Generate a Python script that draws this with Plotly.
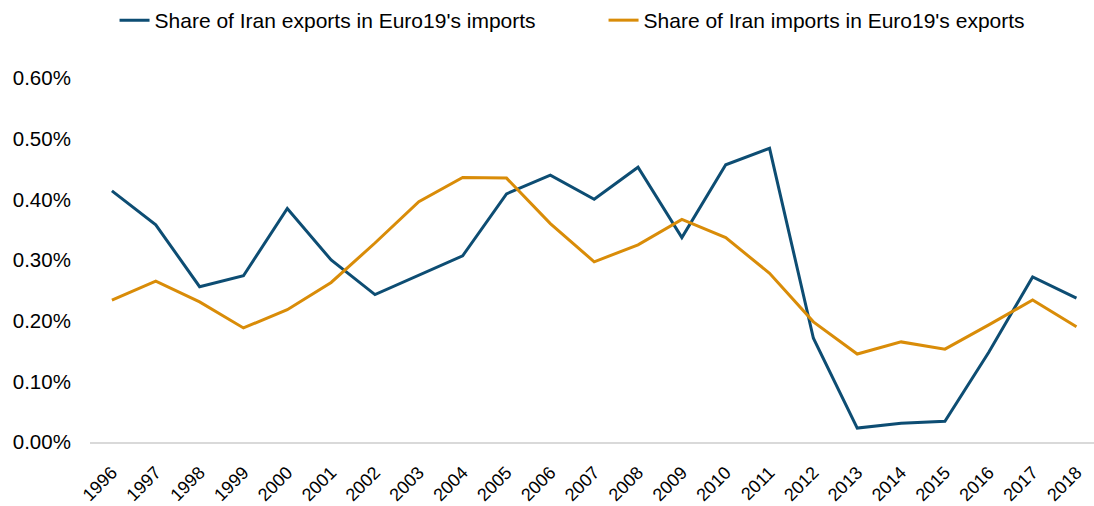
import plotly.graph_objects as go

years = list(range(1996, 2019))
iran_exports_share = [0.414, 0.358, 0.256, 0.274, 0.385, 0.300, 0.243, 0.275, 0.307, 0.409,
                      0.440, 0.400, 0.453, 0.337, 0.457, 0.484, 0.171, 0.023, 0.031, 0.034,
                      0.148, 0.272, 0.237]
iran_imports_share = [0.234, 0.265, 0.231, 0.188, 0.218, 0.263, 0.328, 0.396, 0.436, 0.435,
                      0.360, 0.297, 0.325, 0.367, 0.337, 0.278, 0.198, 0.145, 0.165, 0.153,
                      0.193, 0.234, 0.190]
series_names = ["Share of Iran exports in Euro19's imports",
                "Share of Iran imports in Euro19's exports"]
y_ticks = [0, 0.1, 0.2, 0.3, 0.4, 0.5, 0.6]

fig = go.Figure()
fig.add_trace(go.Scatter(x=years, y=iran_exports_share, mode="lines", name=series_names[0],
                         line=dict(color="#0d4d73", width=3)))
fig.add_trace(go.Scatter(x=years, y=iran_imports_share, mode="lines", name=series_names[1],
                         line=dict(color="#d98c08", width=3)))

fig.update_layout(
    width=1094, height=506,
    margin=dict(l=90, r=0, t=78, b=64, autoexpand=False),
    paper_bgcolor="white", plot_bgcolor="white",
    font=dict(family="Liberation Sans, Arial, sans-serif", size=21, color="#000000"),
    showlegend=True,
    legend=dict(orientation="h", xref="container", yref="container",
                x=0.1047, xanchor="left", y=1.0, yanchor="top",
                font=dict(size=21), entrywidth=444, entrywidthmode="pixels",
                bgcolor="rgba(0,0,0,0)"),
)
fig.update_xaxes(
    range=[1995.5, 2018.4], tickmode="array", tickvals=years,
    ticktext=[str(y) for y in years], tickangle=-45, automargin=False,
    showgrid=False, zeroline=False, showline=True, linecolor="#d9d9d9", linewidth=2,
    ticks="outside", ticklen=11, tickcolor="rgba(0,0,0,0)", tickfont=dict(size=18),
)
fig.update_yaxes(
    range=[0, 0.6], tickmode="array", tickvals=y_ticks,
    ticktext=[f"{v:.2f}%" for v in y_ticks], automargin=False,
    showgrid=False, zeroline=False, showline=False,
    ticks="outside", ticklen=14, tickcolor="rgba(0,0,0,0)", tickfont=dict(size=20.5),
)

fig.write_html("out.html", config={"displayModeBar": False},
               post_script="document.body.style.margin='0';")
